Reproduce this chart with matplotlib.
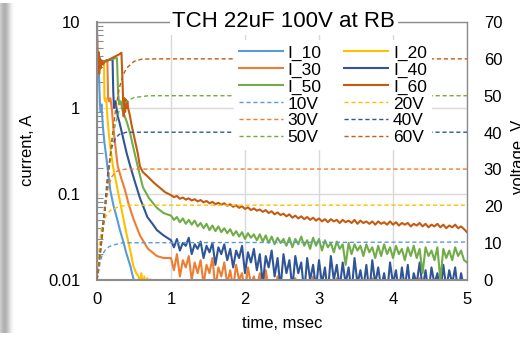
import numpy as np
import matplotlib
matplotlib.use('Agg')
import matplotlib.pyplot as plt
from matplotlib.ticker import NullFormatter, LogLocator

plt.rcParams['font.family'] = ['Liberation Sans', 'DejaVu Sans']

# ---------------- data ----------------
# currents, A  (early part: explicit times, msec)
t_i10 = [0, 0.01, 0.02, 0.03, 0.04, 0.05, 0.06, 0.08, 0.1, 0.13, 0.18, 0.22, 0.27, 0.31, 0.35, 0.4, 0.45, 0.49, 0.52]
i10 = [3.0, 3.2, 3.3, 2.0, 1.1, 0.9, 1.1, 0.6, 0.4, 0.25, 0.11, 0.075, 0.052, 0.038, 0.029, 0.02, 0.0146, 0.0105, 0.008]

t_i20 = [0, 0.02, 0.05, 0.08, 0.095, 0.1, 0.11, 0.12, 0.13, 0.14, 0.16, 0.19, 0.22, 0.25, 0.28, 0.32, 0.36, 0.4,
         0.45, 0.49, 0.53, 0.56, 0.58, 0.6, 0.62, 0.64, 0.66, 0.68, 0.7, 0.72, 0.75, 0.8, 0.85, 0.9]
i20 = [3.0, 3.3, 3.4, 3.5, 3.5, 1.3, 1.2, 1.3, 1.1, 0.8, 0.5, 0.3, 0.2, 0.15, 0.11, 0.075, 0.05, 0.034,
       0.022, 0.0146, 0.012, 0.011, 0.009, 0.012, 0.008, 0.011, 0.007, 0.0105, 0.007, 0.0102, 0.006, 0.0101, 0.006, 0.005]

t_i30 = [0, 0.02, 0.05, 0.1, 0.14, 0.15, 0.16, 0.18, 0.2, 0.22, 0.25, 0.28, 0.33, 0.38, 0.43, 0.49, 0.58, 0.69, 0.81, 0.9]
i30 = [3.0, 3.4, 3.4, 3.5, 3.6, 1.3, 1.2, 1.3, 1.0, 0.6, 0.35, 0.21, 0.15, 0.11, 0.075, 0.052, 0.033, 0.023, 0.019, 0.018]

t_i40 = [0, 0.02, 0.05, 0.1, 0.15, 0.2, 0.21, 0.22, 0.23, 0.25, 0.28, 0.3, 0.34, 0.4, 0.45, 0.5, 0.58, 0.63, 0.68, 0.75, 0.81, 0.9]
i40 = [3.0, 3.4, 3.4, 3.5, 3.6, 3.7, 3.7, 1.5, 1.0, 1.2, 0.8, 0.7, 0.5, 0.3, 0.21, 0.15, 0.09, 0.07, 0.054, 0.045, 0.038, 0.033]

t_i50 = [0, 0.02, 0.05, 0.1, 0.15, 0.2, 0.25, 0.27, 0.285, 0.3, 0.32, 0.35, 0.4, 0.45, 0.5, 0.55, 0.62, 0.7, 0.81, 0.9]
i50 = [3.0, 3.3, 3.4, 3.5, 3.6, 3.7, 3.8, 3.8, 1.5, 1.1, 1.2, 0.9, 0.7, 0.5, 0.32, 0.21, 0.12, 0.09, 0.069, 0.06]

t_i60 = [0, 0.005, 0.01, 0.02, 0.03, 0.04, 0.05, 0.06, 0.08, 0.1, 0.12, 0.15, 0.2, 0.25, 0.3, 0.33, 0.345, 0.36,
         0.37, 0.38, 0.39, 0.4, 0.41, 0.42, 0.44, 0.47, 0.5, 0.55, 0.58, 0.62, 0.69, 0.77, 0.85, 0.92]
i60 = [7.5, 6.0, 2.8, 4.5, 2.5, 3.8, 2.9, 3.6, 3.2, 3.4, 3.5, 3.6, 3.8, 4.0, 4.2, 4.4, 2.0, 0.8,
       1.3, 0.9, 1.25, 1.0, 1.2, 1.0, 0.85, 0.62, 0.47, 0.3, 0.21, 0.18, 0.158, 0.135, 0.118, 0.105]

# noisy tails, 1.0 .. 5.0 msec every 0.04 msec, values in mA
t_tail = np.round(np.arange(1.0, 5.0001, 0.04), 3)
i30_tail_mA = [18, 13, 20, 11, 17, 14, 19, 10, 16, 12,
               17, 9, 15, 12, 18, 8, 14, 11, 16, 9,
               13, 8, 15, 10, 12, 7, 14, 9, 11, 8,
               12, 7, 13, 8, 10, 7, 11, 6, 9, 7,
               8, 6, 10.5, 7, 8, 6, 9, 6, 11, 7,
               8, 6, 9, 5, 8, 6, 10.5, 6, 8, 5,
               7, 5, 9, 6, 8, 5, 7, 6, 10.5, 5,
               7, 5, 8, 6, 7, 5, 9, 5, 7, 6,
               8, 5, 7, 6, 10.5, 5, 8, 6, 7, 5,
               7, 5, 8, 6, 7, 5, 9, 6, 7, 5,
               6]
i40_tail_mA = [29, 24, 30, 22, 27, 25, 31, 20, 26, 23,
               28, 18, 25, 21, 27, 15, 24, 20, 26, 17,
               23, 14, 22, 18, 25, 12, 21, 16, 23, 13,
               20, 9, 19, 14, 22, 11, 18, 8, 20, 12,
               17, 8, 19, 12, 16, 7, 18, 10, 15, 8,
               17, 9, 14, 7, 19, 10, 15, 8, 16, 9,
               14, 7, 18, 9, 13, 8, 15, 7, 17, 9,
               14, 8, 12, 7, 16, 9, 13, 7, 14, 8,
               15, 7, 12, 9, 16, 8, 13, 7, 14, 9,
               12, 7, 15, 8, 13, 9, 14, 7, 12, 8,
               9]
i50_tail_mA = [56, 50, 54, 47, 52, 45, 50, 44, 49, 42,
               46, 40, 45, 38, 43, 37, 42, 36, 40, 35,
               39, 33, 37, 32, 36, 30, 35, 31, 34, 29,
               34, 28, 33, 27, 32, 26, 31, 27, 30, 25,
               31, 24, 30, 26, 32, 25, 29, 23, 31, 25,
               30, 22, 29, 24, 27, 21, 28, 23, 26, 15,
               27, 20, 26, 22, 25, 19, 26, 21, 24, 18,
               25, 19, 26, 20, 24, 18, 25, 20, 23, 17,
               24, 19, 25, 18, 23, 12, 24, 19, 22, 17,
               24, 10, 23, 18, 22, 17, 24, 19, 22, 17,
               16]
i60_tail_mA = [97, 92, 95, 88, 91, 86, 89, 84, 87, 82,
               85, 80, 83, 78, 81, 76, 79, 75, 78, 73,
               76, 71, 74, 69, 72, 67, 70, 65, 68, 64,
               66, 62, 65, 60, 63, 58, 61, 57, 59, 55,
               58, 53, 56, 52, 55, 51, 54, 50, 53, 49,
               52, 48, 51, 47, 51, 48, 50, 46, 50, 47,
               49, 46, 50, 45, 49, 46, 48, 45, 48, 44,
               48, 45, 47, 44, 48, 44, 47, 43, 46, 44,
               46, 42, 45, 43, 46, 42, 45, 41, 44, 42,
               45, 41, 44, 40, 43, 41, 44, 40, 42, 39,
               36]

# voltages, V
t_v10 = [0, 0.02, 0.04, 0.07, 0.11, 0.16, 0.22, 0.35, 5.0]
v10 = [0, 2.0, 4.6, 6.8, 8.1, 9.0, 9.5, 10.1, 10.3]
t_v20 = [0, 0.03, 0.06, 0.1, 0.15, 0.2, 0.3, 0.4, 5.0]
v20 = [0, 9, 14, 16.5, 18.3, 19.2, 19.9, 20.3, 20.3]
t_v30 = [0, 0.05, 0.1, 0.15, 0.2, 0.25, 0.3, 0.4, 5.0]
v30 = [0, 9, 18, 25, 28, 29.3, 29.8, 30.1, 30.1]
t_v40 = [0, 0.05, 0.1, 0.15, 0.2, 0.25, 0.3, 0.4, 5.0]
v40 = [0, 9, 19, 30, 36, 38.5, 39.5, 40.1, 40.1]
t_v50 = [0, 0.05, 0.1, 0.15, 0.2, 0.25, 0.3, 0.4, 0.5, 0.7, 5.0]
v50 = [0, 8, 17, 27, 37, 42.5, 46, 48.5, 49.5, 50, 50]
t_v60 = [0, 0.05, 0.1, 0.15, 0.2, 0.25, 0.3, 0.35, 0.4, 0.5, 0.6, 0.8, 5.0]
v60 = [0, 8, 17, 28, 38, 46, 52, 55.5, 57.5, 59.3, 59.9, 60, 60]

labels_i = ['I_10', 'I_20', 'I_30', 'I_40', 'I_50', 'I_60']
labels_v = ['10V', '20V', '30V', '40V', '50V', '60V']
colors = ['#5B9BD5', '#FFC000', '#ED7D31', '#2F5597', '#70AD47', '#C55A11']

title = 'TCH 22uF 100V at RB'
left_ticks = [0.01, 0.1, 1, 10]
left_ticklabels = ['0.01', '0.1', '1', '10']
right_ticks = [0, 10, 20, 30, 40, 50, 60, 70]
x_ticks = [0, 1, 2, 3, 4, 5]

# ---------------- assemble series ----------------
cur_t = [t_i10, t_i20,
         list(t_i30) + list(t_tail),
         list(t_i40) + list(t_tail),
         list(t_i50) + list(t_tail),
         list(t_i60) + list(t_tail)]
cur_v = [i10, i20,
         list(i30) + [v / 1000 for v in i30_tail_mA],
         list(i40) + [v / 1000 for v in i40_tail_mA],
         list(i50) + [v / 1000 for v in i50_tail_mA],
         list(i60) + [v / 1000 for v in i60_tail_mA]]
vol_t = [t_v10, t_v20, t_v30, t_v40, t_v50, t_v60]
vol_v = [v10, v20, v30, v40, v50, v60]

# ---------------- figure ----------------
W, H = 520, 337
fig = plt.figure(figsize=(W / 100, H / 100), dpi=100)

# left drop shadow
sh = fig.add_axes([0, 4 / H, 16 / W, 330 / H])
prof = np.array([205, 196, 188, 180, 176, 178, 184, 194, 206, 218, 229, 238, 246, 251, 254, 255], float)
vert = np.ones(60)
grad = 255 - np.outer(vert, 255 - prof)
sh.imshow(grad, cmap='gray', vmin=0, vmax=255, aspect='auto', interpolation='bilinear')
sh.axis('off')

ax = fig.add_axes([97 / W, (H - 280) / H, 370 / W, 258 / H])
ax.set_facecolor('none')
ax.set_yscale('log')
ax.set_xlim(0, 5)
ax.set_ylim(0.01, 10)

for tt, vv, c, lab in zip(cur_t, cur_v, colors, labels_i):
    ax.plot(tt, vv, color=c, lw=1.5, label=lab, solid_joinstyle='round')

ax.set_xticks(x_ticks)
ax.set_xticklabels([str(x) for x in x_ticks])
ax.set_yticks(left_ticks)
ax.set_yticklabels(left_ticklabels)
ax.yaxis.set_minor_locator(LogLocator(base=10, subs=np.arange(2, 10), numticks=20))
ax.yaxis.set_minor_formatter(NullFormatter())
ax.tick_params(axis='y', which='major', direction='in', length=0, pad=12, labelsize=12, colors='#8c8c8c', labelcolor='black')
ax.tick_params(axis='y', which='minor', direction='in', length=4, width=0.8, colors='#8c8c8c')
ax.tick_params(axis='x', which='both', length=0, pad=9, labelsize=12)
ax.grid(True, which='major', axis='both', color='#d9d9d9', lw=1.0)
ax.set_axisbelow(True)
for s in ['left', 'bottom']:
    ax.spines[s].set_color('#8c8c8c')
    ax.spines[s].set_linewidth(1.5)
ax.spines['top'].set_color('#8c8c8c')
ax.spines['top'].set_linewidth(1.0)
ax.spines['right'].set_color('#8c8c8c')
ax.spines['right'].set_linewidth(1.0)

ax2 = ax.twinx()
ax2.set_ylim(0, 70)
ax2.set_yticks(right_ticks)
ax2.set_yticklabels([str(v) for v in right_ticks])
ax2.tick_params(axis='y', length=0, pad=12, labelsize=12)
for s in ax2.spines.values():
    s.set_visible(False)

for tt, vv, c, lab in zip(vol_t, vol_v, colors, labels_v):
    ax2.plot(tt, vv, color=c, lw=1.0, ls=(0, (3, 2)), label=lab)

# legend (Excel row order: I_10 I_20 / I_30 I_40 / ...)
h1, l1 = ax.get_legend_handles_labels()
h2, l2 = ax2.get_legend_handles_labels()
hall = h1 + h2
order = [0, 2, 4, 6, 8, 10, 1, 3, 5, 7, 9, 11]
leg = ax2.legend([hall[i] for i in order], [(l1 + l2)[i] for i in order], ncol=2,
                 loc='upper left', bbox_to_anchor=(0.37, 0.93), frameon=True, fancybox=False,
                 facecolor='white', edgecolor='none', framealpha=1.0, fontsize=12.5,
                 labelspacing=0.1, handlelength=2.5, handletextpad=0.3, columnspacing=1.3,
                 borderpad=0.3, borderaxespad=0)

ax2.text(0.505, 0.979, title, transform=ax.transAxes, ha='center', va='baseline', fontsize=16,
         bbox=dict(facecolor='white', edgecolor='none', pad=2), zorder=10)

fig.text(28 / W, 1 - 150 / H, 'current, A', rotation=90, ha='center', va='center', fontsize=12)
fig.text(282 / W, 1 - 324 / H, 'time, msec', ha='center', va='center', fontsize=12)
fig.text(511 / W, 1 - 157 / H, 'voltage, V', rotation=90, ha='left', va='center', fontsize=12)

fig.savefig('out.png', dpi=100)
